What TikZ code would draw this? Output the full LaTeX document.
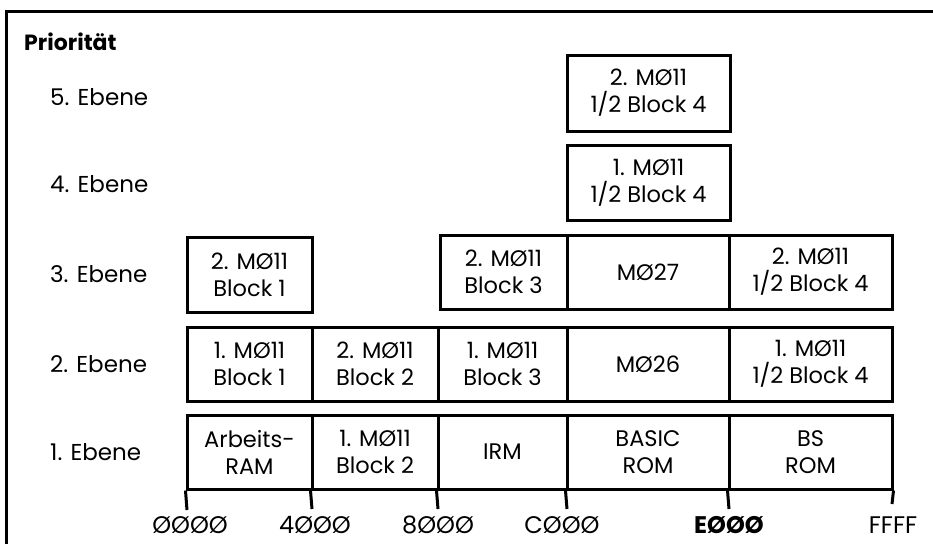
\documentclass[tikz,border=0pt]{standalone}
\usepackage{fontspec}
\setmainfont{Poppins}
\newcommand\memnode[6]{\node[mem, minimum width={(#4-#2)*1pt}, minimum height={(#5-#3)*1pt}] (#1) at ({(#2+#4)/2},{(#3+#5)/2}) {#6};}
\begin{document}
\begin{tikzpicture}[x=1pt,y=-1pt,
  mem/.style={draw, line width=3pt, rectangle, inner sep=0pt, align=center, font=\fontsize{22.5}{27}\selectfont},
  lvl/.style={anchor=west, font=\fontsize{23}{26}\selectfont, inner sep=0pt},
  ticker/.style={line width=3pt},
  addr/.style={font=\fontsize{24}{26}\selectfont, inner sep=0pt}]
\useasboundingbox (0,0) rectangle (933,544);
\draw[line width=3pt] (6,544) -- (6,11) -- (933,11);
\node[anchor=west, inner sep=0pt, font=\fontsize{22}{26}\selectfont\bfseries] (prio) at (24,42) {Priorität};
\node[lvl] (e5) at (50,97) {5. Ebene};
\node[lvl] (e4) at (50,184) {4. Ebene};
\node[lvl] (e3) at (50,274) {3. Ebene};
\node[lvl] (e2) at (50,364) {2. Ebene};
\node[lvl] (e1) at (50,452) {1. Ebene};
% level 1
\memnode{a1}{187}{415}{312}{489}{Arbeits-\\RAM}
\memnode{a2}{312}{415}{438}{489}{1. MØ11\\Block 2}
\memnode{a3}{438}{415}{567}{489}{IRM}
\memnode{a4}{567}{415}{729}{489}{BASIC\\ROM}
\memnode{a5}{729}{415}{892}{489}{BS\\ROM}
% level 2
\memnode{b1}{187}{327}{312}{401}{1. MØ11\\Block 1}
\memnode{b2}{312}{327}{438}{401}{2. MØ11\\Block 2}
\memnode{b3}{438}{327}{567}{401}{1. MØ11\\Block 3}
\memnode{b4}{567}{327}{729}{401}{MØ26}
\memnode{b5}{729}{327}{892}{401}{1. MØ11\\1/2 Block 4}
% level 3
\memnode{c1}{187}{237}{312}{312}{2. MØ11\\Block 1}
\memnode{c3}{440}{235}{567}{309}{2. MØ11\\Block 3}
\memnode{c4}{567}{235}{729}{309}{MØ27}
\memnode{c5}{729}{235}{892}{309}{2. MØ11\\1/2 Block 4}
% level 4 and 5
\memnode{d5}{567}{145}{730}{220}{1. MØ11\\1/2 Block 4}
\memnode{f5}{567}{55}{730}{131}{2. MØ11\\1/2 Block 4}
% addresses
\node[addr] (l0) at (190,525) {ØØØØ};
\node[addr] (l1) at (315,525) {4ØØØ};
\node[addr] (l2) at (438,525) {8ØØØ};
\node[addr] (l3) at (562,525) {CØØØ};
\node[addr,font=\fontsize{24}{26}\selectfont\bfseries] (l4) at (729,525) {EØØØ};
\node[addr] (l5) at (893,525) {FFFF};
\coordinate (t0) at (187,510);
\coordinate (t1) at (312,509);
\coordinate (t2) at (438,509);
\coordinate (t3) at (567,509);
\coordinate (t4) at (729,509);
\coordinate (t5) at (892,504);
\draw[ticker] (a1.south west) -- (t0);
\draw[ticker] (a2.south west) -- (t1);
\draw[ticker] (a3.south west) -- (t2);
\draw[ticker] (a4.south west) -- (t3);
\draw[ticker] (a5.south west) -- (t4);
\draw[ticker] (a5.south east) -- (t5);
\end{tikzpicture}
\end{document}
